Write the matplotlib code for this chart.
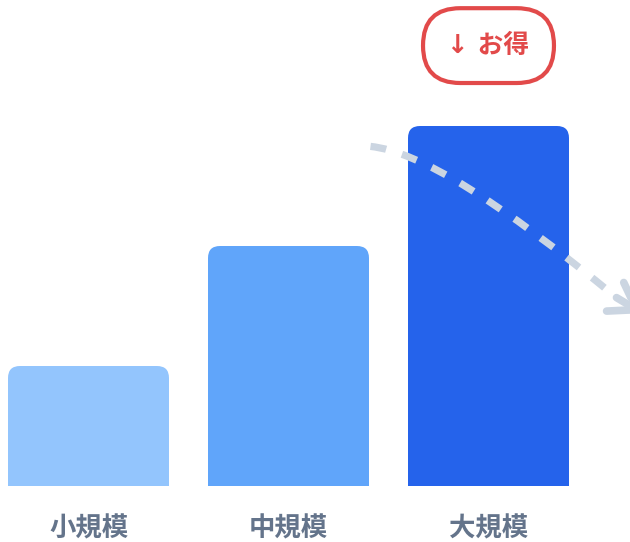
import matplotlib
matplotlib.use("Agg")
import matplotlib.pyplot as plt
from matplotlib.patches import FancyBboxPatch, Rectangle, PathPatch
from matplotlib.path import Path

plt.rcParams['font.family'] = ['Noto Sans CJK JP', 'DejaVu Sans']

# data
categories = ['小規模', '中規模', '大規模']
values = [1.0, 2.0, 3.0]
colors = ['#93c5fd', '#60a5fa', '#2563eb']
badge_text = '↓ お得'

# dashed trend arrow anchors (data units)
arrow_start = (1.41, 2.83)
arrow_ctrl = (1.77, 2.77)
arrow_end = (2.64, 1.57)
arrow_tip = (2.77, 1.44)

W, H = 630, 542
fig = plt.figure(figsize=(W / 100, H / 100), dpi=100)
ax = fig.add_axes([0, 56 / H, 1, 486 / H])
ax.set_xlim(-88.5 / 200, (W - 88.5) / 200)
ax.set_ylim(0, 486 / 120)
ax.axis('off')

bar_w = 161 / 200
rx, ry = 12 / 200, 12 / 120
for i, (v, c) in enumerate(zip(values, colors)):
    x0 = i - bar_w / 2
    ax.add_patch(FancyBboxPatch((x0, 0), bar_w, v,
                                boxstyle="round,pad=0,rounding_size=%f" % rx,
                                mutation_aspect=ry / rx, fc=c, ec='none', zorder=2))
    ax.add_patch(Rectangle((x0, 0), bar_w, v / 2, fc=c, ec='none', zorder=2))
    ax.text(i, -43 / 120, categories[i], ha='center', va='center',
            fontsize=19, fontweight='bold', color='#64748b', clip_on=False)

# badge above the largest bar
ax.text(2, 3.67, badge_text, ha='center', va='center', fontsize=18.5,
        fontweight='bold', color='#e24a4a', zorder=5,
        family=['DejaVu Sans', 'Noto Sans CJK JP'],
        bbox=dict(boxstyle='round,pad=0.95,rounding_size=1.45', fc='white',
                  ec='#e24a4a', lw=3))

# dashed curved arrow
path = Path([arrow_start, arrow_ctrl, arrow_end],
            [Path.MOVETO, Path.CURVE3, Path.CURVE3])
ax.add_patch(PathPatch(path, fc='none', ec='#cbd5e1', lw=5.2,
                       linestyle=(0, (2.2, 2.3)), capstyle='butt', zorder=4))
ax.annotate('', xy=arrow_tip, xytext=arrow_end, annotation_clip=False,
            arrowprops=dict(arrowstyle='->,head_length=0.9,head_width=0.6',
                            color='#cbd5e1', lw=5.5, mutation_scale=20,
                            shrinkA=0, shrinkB=0), zorder=4)

fig.savefig('out.png', dpi=100, facecolor='white')
